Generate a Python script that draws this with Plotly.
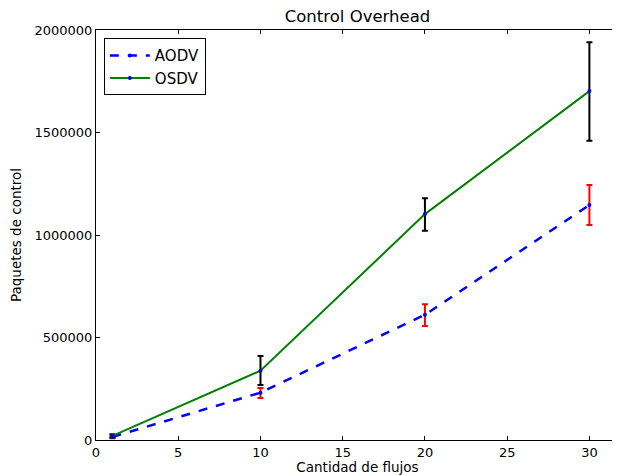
import plotly.graph_objects as go

flows = [1, 10, 20, 30]
aodv = [15000, 231000, 611000, 1146000]
aodv_err_plus = [6000, 23000, 51000, 98000]
aodv_err_minus = [6000, 26000, 55000, 97000]
osdv = [20000, 338000, 1102000, 1702000]
osdv_err_plus = [8000, 72000, 77000, 238000]
osdv_err_minus = [8000, 70000, 81000, 242000]
x_ticks = [0, 5, 10, 15, 20, 25, 30]
y_ticks = [0, 500000, 1000000, 1500000, 2000000]

fig = go.Figure()
fig.add_trace(go.Scatter(
    x=flows, y=aodv, name="AODV", mode="lines+markers",
    line=dict(color="blue", width=2.5, dash="dash"),
    marker=dict(color="blue", size=4),
    error_y=dict(type="data", symmetric=False, array=aodv_err_plus,
                 arrayminus=aodv_err_minus, color="red", thickness=2, width=3),
))
fig.add_trace(go.Scatter(
    x=flows, y=osdv, name="OSDV", mode="lines+markers",
    line=dict(color="green", width=2),
    marker=dict(color="blue", size=4),
    error_y=dict(type="data", symmetric=False, array=osdv_err_plus,
                 arrayminus=osdv_err_minus, color="black", thickness=2, width=3),
))

axis_common = dict(
    showgrid=False, zeroline=False, showline=True, linecolor="black", linewidth=1,
    mirror="ticks", ticks="inside", ticklen=4, tickcolor="black",
    tickfont=dict(family="DejaVu Sans", size=13, color="black"),
)
fig.update_xaxes(range=[0, 31.8], tickvals=x_ticks,
                 title=dict(text="Cantidad de flujos", standoff=2,
                            font=dict(family="DejaVu Sans", size=13.5, color="black")),
                 **axis_common)
fig.update_yaxes(range=[0, 2000000], tickvals=y_ticks, tickformat="d",
                 title=dict(text="Paquetes de control", standoff=10,
                            font=dict(family="DejaVu Sans", size=13.5, color="black")),
                 **axis_common)

fig.update_layout(
    width=612, height=467,
    margin=dict(l=88, r=1, t=22, b=35),
    paper_bgcolor="white", plot_bgcolor="white",
    title=dict(text="Control Overhead", xref="paper", x=0.5, xanchor="center",
               y=0.995, yanchor="top",
               font=dict(family="DejaVu Sans", size=16.5, color="black")),
    legend=dict(x=0.015, y=0.98, xanchor="left", yanchor="top",
                bordercolor="black", borderwidth=1, bgcolor="white",
                font=dict(family="DejaVu Sans", size=15, color="black"),
                tracegroupgap=0, itemwidth=40),
    showlegend=True,
)

fig.write_html("out.html")
